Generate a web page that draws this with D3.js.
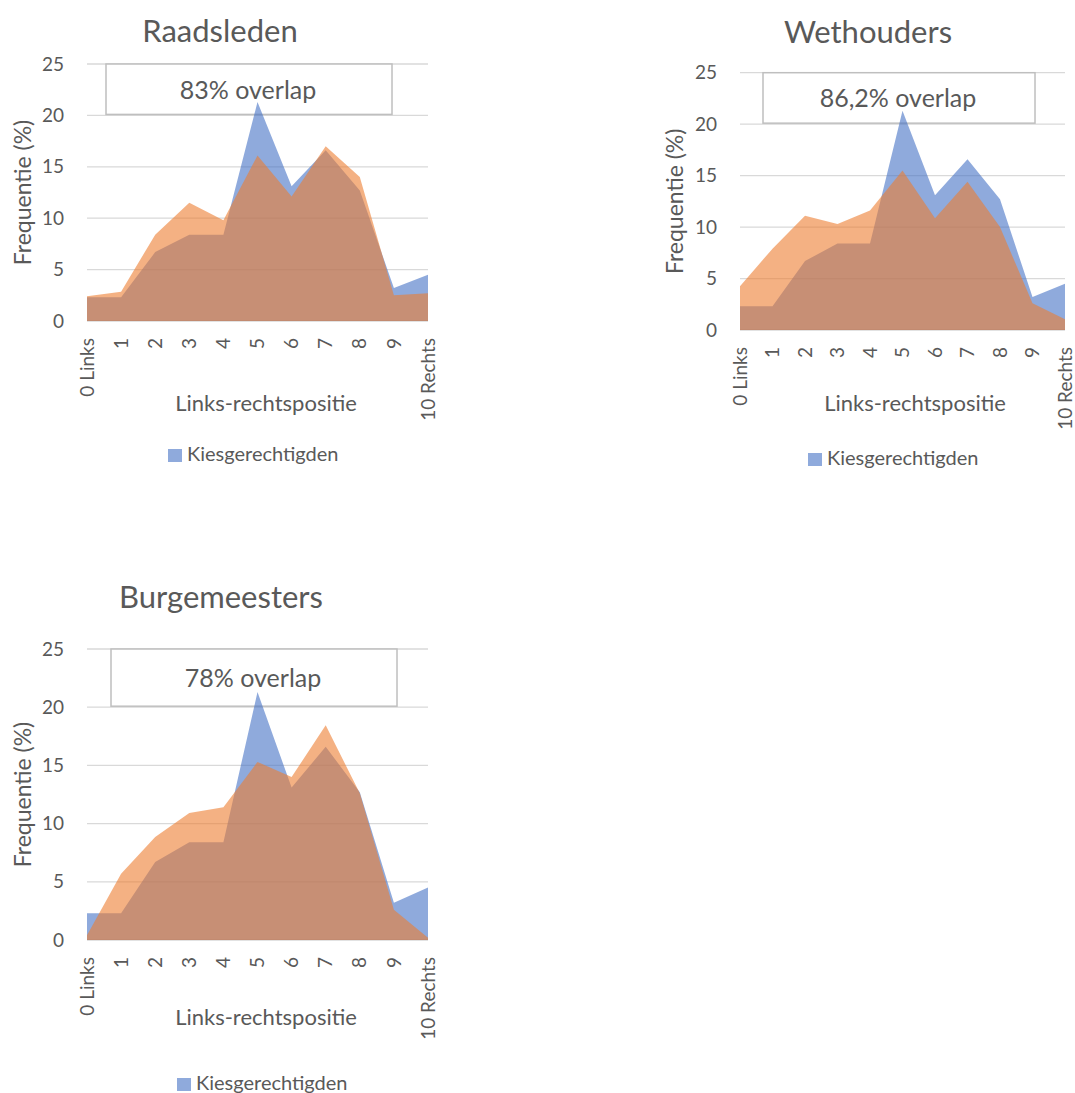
<!DOCTYPE html>
<html>
<head>
<meta charset="utf-8">
<script src="https://cdn.jsdelivr.net/npm/d3@7"></script>
<style>
  html, body { margin: 0; padding: 0; background: #fff; }
  svg { display: block; font-family: Lato, "Open Sans", sans-serif; }
</style>
</head>
<body>
<svg id="chart" width="1075" height="1093"></svg>
<script>
// Left-right self-placement: electorate vs. local office holders (percent per position)
const positions = ["0 Links", "1", "2", "3", "4", "5", "6", "7", "8", "9", "10 Rechts"];
const yTicks = [0, 5, 10, 15, 20, 25];

const kiesgerechtigden = [2.3, 2.3, 6.7, 8.4, 8.4, 21.3, 13.1, 16.6, 12.7, 3.2, 4.5];
const raadsleden       = [2.4, 2.85, 8.4, 11.5, 9.8, 16.1, 12.1, 17.0, 14.0, 2.5, 2.7];
const wethouders       = [4.25, 7.9, 11.1, 10.3, 11.6, 15.5, 10.85, 14.4, 10.0, 2.6, 1.05];
const burgemeesters    = [0.4, 5.7, 8.85, 10.9, 11.4, 15.3, 14.0, 18.45, 12.6, 2.6, 0.2];

const titles = ["Raadsleden", "Wethouders", "Burgemeesters"];
const overlapLabels = ["83% overlap", "86,2% overlap", "78% overlap"];
const officeSeries = [raadsleden, wethouders, burgemeesters];

const legendLabel = "Kiesgerechtigden";
const xTitle = "Links-rechtspositie";
const yTitle = "Frequentie (%)";

// Panel geometry
const panels = [
  { left: 87,  right: 428,  top: 64,  bottom: 321, titleX: 220, titleY: 42,
    boxX0: 106, boxX1: 392, textX: 248, textY: 99,
    yTitleX: 23, xTitleX: 266, xTitleY: 411, legX: 168, legY: 449 },
  { left: 740, right: 1065, top: 72.7, bottom: 330, titleX: 868, titleY: 43,
    boxX0: 763, boxX1: 1035, textX: 898, textY: 107,
    yTitleX: 675, xTitleX: 915, xTitleY: 411, legX: 808, legY: 453 },
  { left: 87,  right: 428,  top: 649, bottom: 940, titleX: 221, titleY: 608,
    boxX0: 111, boxX1: 397, textX: 253, textY: 687,
    yTitleX: 23, xTitleX: 266, xTitleY: 1025, legX: 177, legY: 1078 }
];

const textColor = "#595959";
const gridColor = "#d9d9d9";
const blueFill = "rgba(68,114,196,0.6)";
const orangeFill = "rgba(237,125,49,0.6)";

const svg = d3.select("#chart");

panels.forEach((p, i) => {
  const g = svg.append("g");
  const x = d3.scalePoint().domain(positions).range([p.left, p.right]);
  const y = d3.scaleLinear().domain([0, 25]).range([p.bottom, p.top]);

  // title
  g.append("text")
    .attr("x", p.titleX).attr("y", p.titleY)
    .attr("text-anchor", "middle")
    .attr("font-size", 31).attr("fill", textColor)
    .text(titles[i]);

  // horizontal gridlines
  g.selectAll("line.grid").data(yTicks).join("line")
    .attr("class", "grid")
    .attr("x1", p.left).attr("x2", p.right)
    .attr("y1", d => y(d)).attr("y2", d => y(d))
    .attr("stroke", gridColor).attr("stroke-width", 1.3);

  // y tick labels
  g.selectAll("text.ytick").data(yTicks).join("text")
    .attr("class", "ytick")
    .attr("x", p.left - 23).attr("y", d => y(d))
    .attr("dy", "0.35em")
    .attr("text-anchor", "end")
    .attr("font-size", 19).attr("fill", textColor)
    .text(d => d);

  // y axis title
  g.append("text")
    .attr("transform", `translate(${p.yTitleX},${(p.top + p.bottom) / 2}) rotate(-90)`)
    .attr("dy", "0.35em")
    .attr("text-anchor", "middle")
    .attr("font-size", 23).attr("fill", textColor)
    .text(yTitle);

  // overlap annotation box
  g.append("rect")
    .attr("x", p.boxX0).attr("y", y(25))
    .attr("width", p.boxX1 - p.boxX0).attr("height", y(20) - y(25) - 1)
    .attr("fill", "#fff").attr("stroke", "#bfbfbf").attr("stroke-width", 1.5);

  const area = d3.area()
    .x((d, j) => x(positions[j]))
    .y0(y(0))
    .y1(d => y(d));

  // electorate area, then office holders on top
  g.append("path").datum(kiesgerechtigden)
    .attr("d", area).attr("fill", blueFill);
  g.append("path").datum(officeSeries[i])
    .attr("d", area).attr("fill", orangeFill);

  g.append("text")
    .attr("x", p.textX).attr("y", p.textY)
    .attr("text-anchor", "middle")
    .attr("font-size", 25).attr("fill", textColor)
    .text(overlapLabels[i]);

  // x tick labels, rotated
  g.selectAll("text.xtick").data(positions).join("text")
    .attr("class", "xtick")
    .attr("transform", d => `translate(${x(d)},${p.bottom + 17}) rotate(-90)`)
    .attr("dy", "0.35em")
    .attr("text-anchor", "end")
    .attr("font-size", 19).attr("fill", textColor)
    .text(d => d);

  // x axis title
  g.append("text")
    .attr("x", p.xTitleX).attr("y", p.xTitleY)
    .attr("text-anchor", "middle")
    .attr("font-size", 22).attr("fill", textColor)
    .text(xTitle);

  // legend
  g.append("rect")
    .attr("x", p.legX).attr("y", p.legY)
    .attr("width", 14).attr("height", 13)
    .attr("fill", blueFill);
  g.append("text")
    .attr("x", p.legX + 19).attr("y", p.legY + 12)
    .attr("font-size", 20).attr("fill", textColor)
    .text(legendLabel);
});
</script>
</body>
</html>
